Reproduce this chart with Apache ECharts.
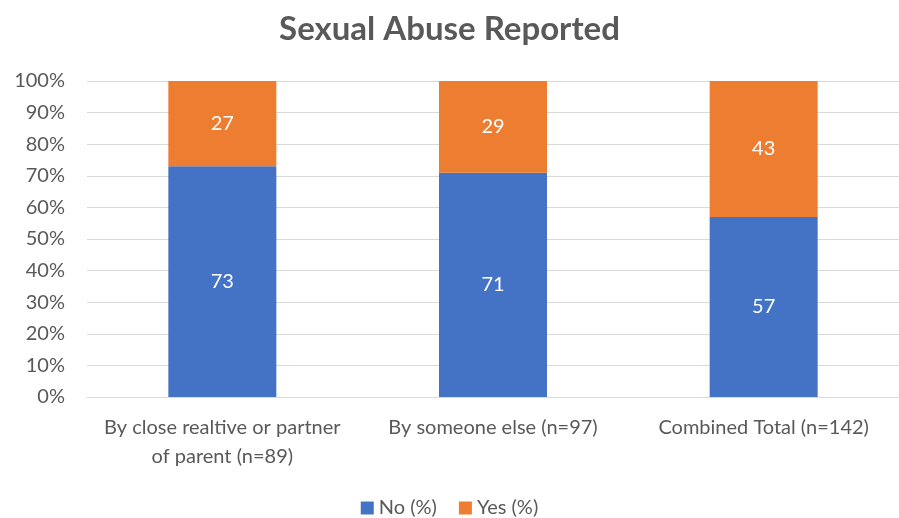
<!DOCTYPE html>
<html>
<head>
<meta charset="utf-8">
<script src="https://cdn.jsdelivr.net/npm/echarts@6/dist/echarts.min.js"></script>
<style>
  html, body { margin: 0; padding: 0; background: #fff; }
  #chart { width: 899px; height: 518px; }
</style>
</head>
<body>
<div id="chart"></div>
<script>
var categories = ['By close realtive or partner\nof parent (n=89)', 'By someone else (n=97)', 'Combined Total (n=142)'];
var noValues = [73, 71, 57];
var yesValues = [27, 29, 43];

var chart = echarts.init(document.getElementById('chart'));
var font = 'Lato, "Open Sans", sans-serif';

var option = {
  backgroundColor: '#fff',
  textStyle: { fontFamily: font },
  title: {
    text: 'Sexual Abuse Reported',
    left: 'center',
    top: 8,
    textStyle: { fontSize: 33, fontWeight: 'bold', color: '#595959', fontFamily: font }
  },
  legend: {
    bottom: -5,
    left: 'center',
    itemWidth: 13,
    itemHeight: 13,
    itemGap: 22,
    icon: 'rect',
    textStyle: { fontSize: 20, color: '#595959', fontFamily: font },
    data: ['No (%)', 'Yes (%)']
  },
  grid: { left: 87, right: 0, top: 81, bottom: 121 },
  xAxis: {
    type: 'category',
    data: categories,
    axisLine: { lineStyle: { color: '#d9d9d9' } },
    axisTick: { show: false },
    axisLabel: { fontSize: 20, color: '#595959', margin: 16, lineHeight: 29, interval: 0, fontFamily: font }
  },
  yAxis: {
    type: 'value',
    min: 0,
    max: 100,
    interval: 10,
    axisLine: { show: false },
    axisTick: { show: false },
    splitLine: { lineStyle: { color: '#d9d9d9' } },
    axisLabel: { formatter: '{value}%', fontSize: 20, color: '#595959', margin: 22, fontFamily: font }
  },
  series: [
    {
      name: 'No (%)',
      type: 'bar',
      stack: 'total',
      barWidth: 108,
      data: noValues,
      itemStyle: { color: '#4472c4' },
      label: { show: true, position: 'inside', color: '#fff', fontSize: 20, fontFamily: font }
    },
    {
      name: 'Yes (%)',
      type: 'bar',
      stack: 'total',
      barWidth: 108,
      data: yesValues,
      itemStyle: { color: '#ed7d31' },
      label: { show: true, position: 'inside', color: '#fff', fontSize: 20, fontFamily: font }
    }
  ]
};
chart.setOption(option);
</script>
</body>
</html>
